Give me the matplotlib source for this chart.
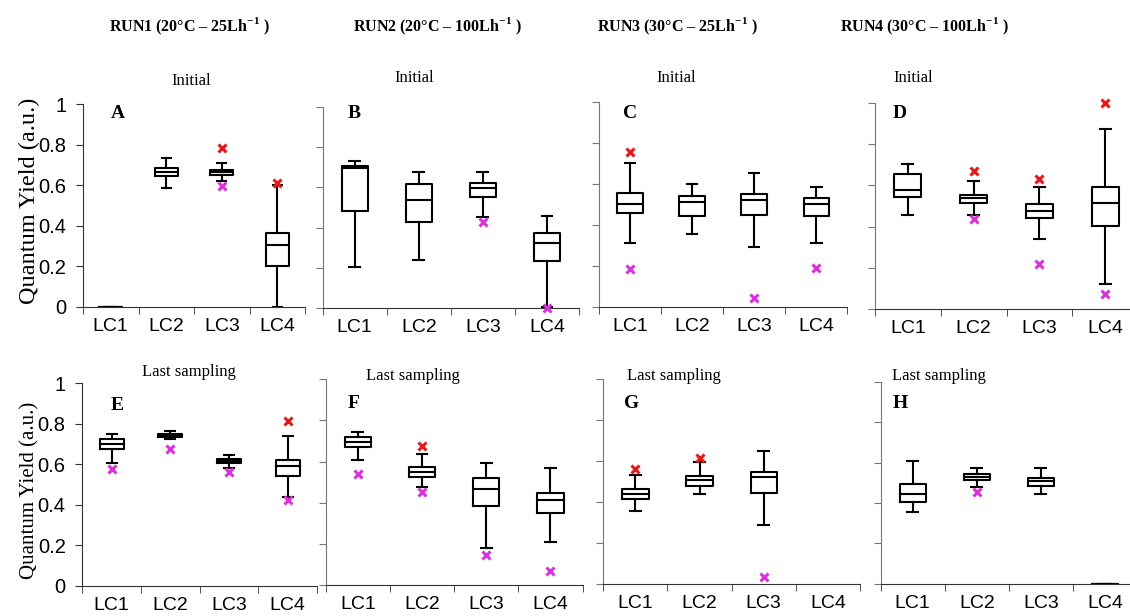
import numpy as np
import matplotlib
matplotlib.use('Agg')
import matplotlib.pyplot as plt

nan = np.nan

# 数据
categories = ['LC1', 'LC2', 'LC3', 'LC4']
panel_letters = ['A', 'B', 'C', 'D', 'E', 'F', 'G', 'H']
run_titles = [r'RUN1 (20°C – 25Lh$^{\mathbf{-1}}$ )', r'RUN2 (20°C – 100Lh$^{\mathbf{-1}}$ )',
              r'RUN3 (30°C – 25Lh$^{\mathbf{-1}}$ )', r'RUN4 (30°C – 100Lh$^{\mathbf{-1}}$ )']
sampling = ['Initial'] * 4 + ['Last sampling'] * 4
y_ticks = [0, 0.2, 0.4, 0.6, 0.8, 1]
y_ticklabels = ['0', '0.2', '0.4', '0.6', '0.8', '1']

whislo = [[0.0, 0.584, 0.620, 0.000],
          [0.207, 0.240, 0.455, 0.008],
          [0.309, 0.354, 0.293, 0.309],
          [0.455, 0.455, 0.338, 0.120],
          [0.608, 0.723, 0.583, 0.440],
          [0.608, 0.478, 0.182, 0.207],
          [0.359, 0.442, 0.291, nan],
          [0.356, 0.480, 0.446, 0.0]]
q1 = [[0.0, 0.643, 0.648, 0.202],
      [0.484, 0.428, 0.552, 0.233],
      [0.455, 0.444, 0.447, 0.444],
      [0.544, 0.513, 0.440, 0.404],
      [0.675, 0.735, 0.608, 0.542],
      [0.673, 0.525, 0.384, 0.350],
      [0.416, 0.481, 0.446, nan],
      [0.406, 0.515, 0.484, 0.0]]
med = [[0.0, 0.666, 0.663, 0.304],
       [0.697, 0.539, 0.598, 0.326],
       [0.501, 0.511, 0.522, 0.502],
       [0.580, 0.537, 0.476, 0.515],
       [0.702, 0.741, 0.616, 0.590],
       [0.697, 0.549, 0.465, 0.412],
       [0.442, 0.507, 0.524, nan],
       [0.442, 0.530, 0.507, 0.0]]
q3 = [[0.0, 0.686, 0.674, 0.362],
      [0.706, 0.618, 0.623, 0.375],
      [0.554, 0.541, 0.551, 0.532],
      [0.654, 0.555, 0.511, 0.593],
      [0.723, 0.748, 0.626, 0.621],
      [0.718, 0.572, 0.520, 0.449],
      [0.463, 0.528, 0.550, nan],
      [0.495, 0.541, 0.521, 0.0]]
whishi = [[0.0, 0.732, 0.711, 0.600],
          [0.732, 0.676, 0.676, 0.460],
          [0.701, 0.597, 0.654, 0.584],
          [0.703, 0.620, 0.594, 0.875],
          [0.750, 0.764, 0.646, 0.738],
          [0.744, 0.635, 0.595, 0.567],
          [0.533, 0.598, 0.652, nan],
          [0.609, 0.571, 0.571, 0.0]]
out_max = [[nan, nan, 0.785, 0.612],
           [nan, nan, nan, nan],
           [0.756, nan, nan, nan],
           [nan, 0.672, 0.631, 1.003],
           [nan, nan, nan, 0.814],
           [nan, 0.676, nan, nan],
           [0.564, 0.616, nan, nan],
           [nan, nan, nan, nan]]
out_min = [[nan, nan, 0.597, nan],
           [nan, nan, 0.430, 0.003],
           [0.184, nan, 0.041, 0.189],
           [nan, 0.435, 0.216, 0.070],
           [0.577, 0.675, 0.560, 0.422],
           [0.538, 0.454, 0.146, 0.070],
           [nan, nan, 0.034, nan],
           [nan, 0.455, nan, nan]]

# 版面（像素：左, 右, 顶(y=1), 底(y=0)）
W, H = 1130, 616
rects = [(83, 305, 104, 306.7), (322.7, 579, 106.7, 308.3),
         (599, 847.3, 101.7, 306.7), (875, 1138, 103.3, 308.7),
         (82.3, 317, 383.3, 585.7), (325.7, 582.5, 379.3, 585),
         (603.3, 860, 379.3, 584.3), (880.7, 1137, 381.7, 583.7)]
letter_pos = [(118, 113), (354, 113), (630, 113), (900, 113),
              (117, 405), (354, 404), (632, 404), (900, 404)]
sampling_pos = [(191, 81), (414, 78), (676, 78), (913, 78),
                (189, 372), (413, 376), (674, 376), (939, 376)]
title_pos = [(189, 26), (437, 26), (677, 26), (924, 26)]

plt.rcParams['mathtext.fontset'] = 'custom'
plt.rcParams['mathtext.rm'] = 'Liberation Serif'
plt.rcParams['mathtext.bf'] = 'Liberation Serif:bold'

serif = 'Liberation Serif'
sans = 'Liberation Sans'
red = '#e3191c'
magenta = '#dd30dd'

fig = plt.figure(figsize=(W / 100, H / 100), dpi=100)


def fx(x):
    return x / W


def fy(y):
    return 1 - y / H


for i in range(8):
    x0, x1, yt, yb = rects[i]
    ax = fig.add_axes([fx(x0), fy(yb), (x1 - x0) / W, (yb - yt) / H])

    stats, pos = [], []
    for j in range(4):
        if np.isnan(med[i][j]):
            continue
        stats.append(dict(med=med[i][j], q1=q1[i][j], q3=q3[i][j],
                          whislo=whislo[i][j], whishi=whishi[i][j], fliers=[]))
        pos.append(j + 1)
    lp = dict(color='black', linewidth=1.5)
    ax.bxp(stats, positions=pos, widths=0.41, capwidths=0.17, showfliers=False,
           boxprops=lp, medianprops=lp, whiskerprops=lp, capprops=lp,
           manage_ticks=False)

    xs = np.arange(1, 5)
    ax.plot(xs, out_max[i], 'x', color=red, ms=6, mew=2.2, clip_on=False, zorder=5)
    ax.plot(xs, out_min[i], 'x', color=magenta, ms=6, mew=2.2, clip_on=False, zorder=5)

    ax.set_xlim(0.5, 4.5)
    ax.set_ylim(0, 1)
    ax.set_xticks(xs)
    ax.set_xticklabels(categories, fontfamily=sans, fontsize=14)
    ax.set_xticks(np.arange(0.5, 5, 1), minor=True)
    ax.tick_params(axis='x', which='major', length=0, pad=8)
    ax.tick_params(axis='x', which='minor', length=5, direction='out', color='#333333')
    ax.set_yticks(y_ticks)
    ygray = '#333333' if i in (0, 4) else '#777777'
    if i in (0, 4):
        ax.set_yticklabels(y_ticklabels, fontfamily=sans, fontsize=14.5)
    else:
        ax.set_yticklabels([])
    ax.tick_params(axis='y', length=5, direction='out', pad=7, color=ygray)

    for s in ['top', 'right']:
        ax.spines[s].set_visible(False)
    ax.spines['left'].set_color(ygray)
    ax.spines['bottom'].set_color('#333333')

    lx, ly = letter_pos[i]
    fig.text(fx(lx), fy(ly), panel_letters[i], fontfamily=serif, fontweight='bold',
             fontsize=14, ha='center', va='center')
    sx, sy = sampling_pos[i]
    fig.text(fx(sx), fy(sy), sampling[i], fontfamily=serif, fontsize=12,
             ha='center', va='center')

for k in range(4):
    tx, ty = title_pos[k]
    fig.text(fx(tx), fy(ty), run_titles[k], fontfamily=serif, fontweight='bold',
             fontsize=11.5, ha='center', va='center')

fig.text(fx(29), fy(201), 'Quantum Yield (a.u.)', fontfamily=serif, fontsize=17.5,
         rotation=90, ha='center', va='center')
fig.text(fx(30), fy(490), 'Quantum Yield (a.u.)', fontfamily=serif, fontsize=15,
         rotation=90, ha='center', va='center')

fig.savefig('out.png', dpi=100)
